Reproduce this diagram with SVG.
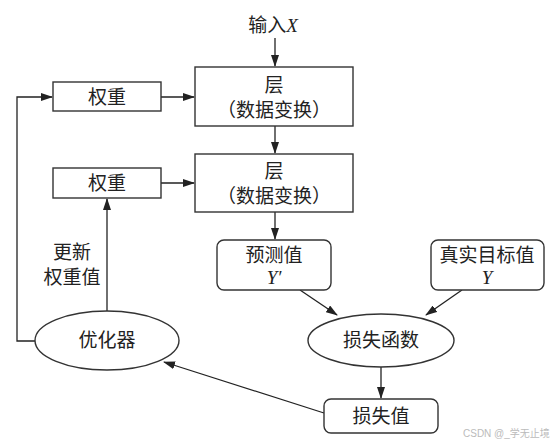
<svg xmlns="http://www.w3.org/2000/svg" width="556" height="444" viewBox="0 0 556 444">
<style>
.box{fill:#fff;stroke:#333;stroke-width:1.4}
.ln{fill:none;stroke:#222;stroke-width:1.3}
.t{font-family:"Noto Sans CJK SC","Liberation Serif",serif;font-size:19px;fill:#222;text-anchor:middle}
.i{font-family:"Liberation Serif",serif;font-style:italic;font-size:19px;fill:#222}
.wm{font-family:"Liberation Sans","Noto Sans CJK SC",sans-serif;font-size:10px;fill:#bbb}
</style>
<defs>
<marker id="ah" markerWidth="12" markerHeight="8" refX="11" refY="4" orient="auto" markerUnits="userSpaceOnUse">
<path d="M0,0 L12,4 L0,8 Z" fill="#222"/>
</marker>
</defs>
<rect width="556" height="444" fill="#fff"/>
<g id="connectors">
<line class="ln" x1="275" y1="38" x2="275" y2="66" marker-end="url(#ah)"/>
<line class="ln" x1="161" y1="97" x2="194" y2="97" marker-end="url(#ah)"/>
<line class="ln" x1="275" y1="126" x2="275" y2="153" marker-end="url(#ah)"/>
<line class="ln" x1="161" y1="183" x2="194" y2="183" marker-end="url(#ah)"/>
<line class="ln" x1="275" y1="212" x2="275" y2="239" marker-end="url(#ah)"/>
<line class="ln" x1="300" y1="290" x2="337" y2="315" marker-end="url(#ah)"/>
<line class="ln" x1="462" y1="290" x2="426" y2="315" marker-end="url(#ah)"/>
<line class="ln" x1="381" y1="367" x2="381" y2="398" marker-end="url(#ah)"/>
<line class="ln" x1="324" y1="413" x2="164" y2="362" marker-end="url(#ah)"/>
<line class="ln" x1="107" y1="311" x2="107" y2="199" marker-end="url(#ah)"/>
<polyline class="ln" points="35,341 17,341 17,97 52,97" marker-end="url(#ah)"/>
</g>
<g id="input">
<text x="273" y="32" class="t">输入<tspan class="i">X</tspan></text>
</g>
<g id="layer1">
<rect class="box" x="195" y="67" width="158" height="59"/>
<text x="274" y="92" class="t">层</text>
<text x="274" y="117" class="t">（数据变换）</text>
</g>
<g id="layer2">
<rect class="box" x="195" y="154" width="158" height="58"/>
<text x="274" y="178" class="t">层</text>
<text x="274" y="203" class="t">（数据变换）</text>
</g>
<g id="weights1">
<rect class="box" x="53" y="82" width="108" height="29"/>
<text x="107" y="103.5" class="t">权重</text>
</g>
<g id="weights2">
<rect class="box" x="53" y="168" width="108" height="30"/>
<text x="107" y="190" class="t">权重</text>
</g>
<g id="update-label">
<text x="72" y="259" class="t">更新</text>
<text x="72" y="284" class="t">权重值</text>
</g>
<g id="prediction">
<rect class="box" x="217" y="240" width="114" height="50" rx="7"/>
<text x="274" y="262" class="t">预测值</text>
<text x="274" y="284" class="i" text-anchor="middle">Y′</text>
</g>
<g id="target">
<rect class="box" x="431" y="240" width="113" height="50" rx="7"/>
<text x="487" y="262" class="t">真实目标值</text>
<text x="487" y="284" class="i" text-anchor="middle">Y</text>
</g>
<g id="loss-function">
<ellipse class="box" cx="381" cy="340.5" rx="73" ry="26.5"/>
<text x="381" y="347" class="t">损失函数</text>
</g>
<g id="loss-value">
<rect class="box" x="324" y="399" width="114" height="34" rx="7"/>
<text x="381" y="423" class="t">损失值</text>
</g>
<g id="optimizer">
<ellipse class="box" cx="107" cy="340.5" rx="72" ry="29.5"/>
<text x="107" y="347" class="t">优化器</text>
</g>
<text x="463" y="437" class="wm">CSDN @_学无止境</text>
</svg>
